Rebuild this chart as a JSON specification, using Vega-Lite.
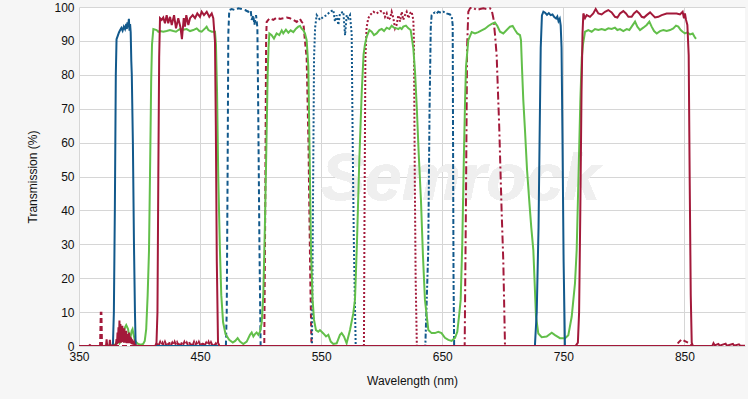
{
"$schema":"https://vega.github.io/schema/vega-lite/v6.json",
"width":666,"height":339,
"autosize":{"type":"none"},
"padding":{"left":79,"top":7,"right":3,"bottom":53},
"background":"#f6f6f6",
"config":{"view":{"fill":"#ffffff","stroke":null},
"axis":{"labelFont":"Liberation Sans","labelFontSize":12,"labelColor":"#111111","titleFont":"Liberation Sans","titleFontSize":12,"titleFontWeight":"normal","titleColor":"#111111","gridColor":"#d6d6d6","gridWidth":1,"domain":false,"ticks":false,"labelPadding":5}},
"datasets":{"d":[
{"s":"R","w":350,"t":0},{"s":"R","w":358,"t":0},{"s":"R","w":359,"t":0.3},{"s":"R","w":360,"t":0},{"s":"R","w":372.3,"t":0},{"s":"R","w":372.8,"t":2},{"s":"R","w":373.3,"t":0},{"s":"R","w":375,"t":0},{"s":"R","w":375.5,"t":1.8},{"s":"R","w":376,"t":0},{"s":"R","w":380.5,"t":0.3},
{"s":"R","w":381,"t":2},{"s":"R","w":381.4,"t":0.5},{"s":"R","w":381.8,"t":4},{"s":"R","w":382.2,"t":0.8},{"s":"R","w":382.6,"t":5.5},{"s":"R","w":383,"t":1},{"s":"R","w":383.4,"t":7.5},{"s":"R","w":383.8,"t":1.5},{"s":"R","w":384.2,"t":6.5},{"s":"R","w":384.6,"t":1},{"s":"R","w":385,"t":5},{"s":"R","w":385.4,"t":1.2},{"s":"R","w":385.8,"t":6},{"s":"R","w":386.2,"t":1.5},{"s":"R","w":386.6,"t":4.5},{"s":"R","w":387,"t":1},{"s":"R","w":387.4,"t":5.2},{"s":"R","w":387.8,"t":1.5},{"s":"R","w":388.2,"t":4},{"s":"R","w":388.6,"t":1},{"s":"R","w":389,"t":4.5},{"s":"R","w":389.4,"t":0.8},{"s":"R","w":389.8,"t":3.5},{"s":"R","w":390.2,"t":1},{"s":"R","w":390.6,"t":3},{"s":"R","w":391,"t":0.8},{"s":"R","w":391.4,"t":4},{"s":"R","w":391.8,"t":1},{"s":"R","w":392.2,"t":2.8},{"s":"R","w":392.6,"t":0.8},{"s":"R","w":393,"t":2.5},{"s":"R","w":393.4,"t":0.6},{"s":"R","w":393.8,"t":2},{"s":"R","w":394.2,"t":0.5},{"s":"R","w":394.6,"t":1.5},{"s":"R","w":395,"t":0.4},{"s":"R","w":395.5,"t":1},{"s":"R","w":396,"t":0.3},{"s":"R","w":398,"t":0},{"s":"R","w":413,"t":0},{"s":"R","w":414,"t":1},{"s":"R","w":414.8,"t":10},{"s":"R","w":415.5,"t":50},{"s":"R","w":416.2,"t":85},
{"s":"R","w":416.9,"t":96.7},{"s":"R","w":418.3,"t":96.2},{"s":"R","w":419.6,"t":96.9},{"s":"R","w":421,"t":95.2},{"s":"R","w":422.4,"t":97.6},{"s":"R","w":423.7,"t":95.2},{"s":"R","w":425.2,"t":97.1},{"s":"R","w":426.6,"t":94.7},{"s":"R","w":428.5,"t":97.6},{"s":"R","w":430.1,"t":93.7},{"s":"R","w":432,"t":96.7},{"s":"R","w":433.8,"t":94},{"s":"R","w":435,"t":90.5},{"s":"R","w":436.5,"t":96.7},{"s":"R","w":437.5,"t":94.2},{"s":"R","w":438.6,"t":97.6},{"s":"R","w":440.3,"t":94.7},{"s":"R","w":441.7,"t":96.7},{"s":"R","w":443.9,"t":97.6},{"s":"R","w":445.8,"t":96.7},{"s":"R","w":447.7,"t":98.1},{"s":"R","w":449.9,"t":97.1},{"s":"R","w":451.3,"t":98.6},{"s":"R","w":453.2,"t":97.6},{"s":"R","w":455.5,"t":98.6},{"s":"R","w":457.6,"t":97.1},{"s":"R","w":459.6,"t":98.1},{"s":"R","w":460.9,"t":96.7},{"s":"R","w":462.3,"t":89.8},{"s":"R","w":463,"t":65},{"s":"R","w":463.8,"t":25},{"s":"R","w":464.8,"t":1},{"s":"R","w":466,"t":0},{"s":"R","w":873,"t":0},{"s":"R","w":874,"t":0.8},{"s":"R","w":875,"t":0.2},{"s":"R","w":878,"t":0.6},{"s":"R","w":879,"t":0.1},{"s":"R","w":884,"t":0.7},{"s":"R","w":885,"t":0.1},{"s":"R","w":890,"t":0.6},{"s":"R","w":891,"t":0.1},{"s":"R","w":895,"t":0.5},{"s":"R","w":896,"t":0.1},{"s":"R","w":900,"t":0.1},
{"s":"R2","w":740,"t":0},{"s":"R2","w":760,"t":0},{"s":"R2","w":762,"t":1},{"s":"R2","w":763,"t":10},{"s":"R2","w":764,"t":40},{"s":"R2","w":765,"t":75},{"s":"R2","w":765.8,"t":92},
{"s":"R2","w":766.5,"t":98.1},{"s":"R2","w":767.9,"t":96.7},{"s":"R2","w":769.3,"t":97.6},{"s":"R2","w":772,"t":97.1},{"s":"R2","w":774.7,"t":98.1},{"s":"R2","w":776.7,"t":99.4},{"s":"R2","w":778.9,"t":98.1},{"s":"R2","w":781.6,"t":97.8},{"s":"R2","w":784.4,"t":98.6},{"s":"R2","w":787.1,"t":99.1},{"s":"R2","w":789.9,"t":98.4},{"s":"R2","w":792.6,"t":97.1},{"s":"R2","w":794.6,"t":96.9},{"s":"R2","w":796.8,"t":98.1},{"s":"R2","w":799.5,"t":98.8},{"s":"R2","w":801.7,"t":98.1},{"s":"R2","w":803.7,"t":97.1},{"s":"R2","w":806.4,"t":97.1},{"s":"R2","w":808.3,"t":98.1},{"s":"R2","w":810.6,"t":98.8},{"s":"R2","w":812.7,"t":98.1},{"s":"R2","w":814.7,"t":97.1},{"s":"R2","w":816.6,"t":96.9},{"s":"R2","w":818.8,"t":97.6},{"s":"R2","w":821.6,"t":98.4},{"s":"R2","w":823.8,"t":97.6},{"s":"R2","w":825.7,"t":96.9},{"s":"R2","w":828.4,"t":97.1},{"s":"R2","w":831.2,"t":97.6},{"s":"R2","w":835.3,"t":98.1},{"s":"R2","w":839.5,"t":98.1},{"s":"R2","w":843.6,"t":98.1},{"s":"R2","w":846.3,"t":97.8},{"s":"R2","w":848.5,"t":98.6},{"s":"R2","w":849.6,"t":96.7},{"s":"R2","w":850.4,"t":98.1},{"s":"R2","w":851.3,"t":96.2},{"s":"R2","w":852.4,"t":94.7},{"s":"R2","w":853.5,"t":85.8},{"s":"R2","w":854.3,"t":50},{"s":"R2","w":855.2,"t":15},{"s":"R2","w":856,"t":1},{"s":"R2","w":857,"t":0},{"s":"R2","w":870,"t":0},
{"s":"B","w":350,"t":0},{"s":"B","w":378,"t":0},{"s":"B","w":378.8,"t":10},{"s":"B","w":379.6,"t":40},{"s":"B","w":380.4,"t":80},{"s":"B","w":381,"t":90.5},{"s":"B","w":382,"t":91.5},{"s":"B","w":383,"t":92.5},{"s":"B","w":384,"t":93.2},{"s":"B","w":385,"t":93.8},{"s":"B","w":386,"t":93},{"s":"B","w":387,"t":94.2},{"s":"B","w":388,"t":93.5},{"s":"B","w":389,"t":95},{"s":"B","w":389.5,"t":93.5},{"s":"B","w":390,"t":95.5},{"s":"B","w":390.5,"t":94},{"s":"B","w":391.2,"t":96.5},{"s":"B","w":391.7,"t":93},{"s":"B","w":392.2,"t":95},{"s":"B","w":392.7,"t":92.5},{"s":"B","w":393.2,"t":84},{"s":"B","w":393.6,"t":80},{"s":"B","w":394.5,"t":60},{"s":"B","w":395.4,"t":30},{"s":"B","w":396.2,"t":10},{"s":"B","w":396.8,"t":0},{"s":"B","w":726.5,"t":0},{"s":"B","w":728,"t":10},{"s":"B","w":729.5,"t":35},{"s":"B","w":730.5,"t":65},{"s":"B","w":731.3,"t":88},{"s":"B","w":732.3,"t":97.5},{"s":"B","w":733.5,"t":98.6},{"s":"B","w":735,"t":98.3},{"s":"B","w":736.5,"t":97.7},{"s":"B","w":738,"t":98.2},{"s":"B","w":739.5,"t":97.6},{"s":"B","w":741,"t":97.8},{"s":"B","w":742.5,"t":97},{"s":"B","w":744,"t":96.6},{"s":"B","w":745,"t":97.2},{"s":"B","w":746,"t":95.8},{"s":"B","w":747,"t":96.5},{"s":"B","w":747.8,"t":94.5},{"s":"B","w":748.5,"t":88},{"s":"B","w":749.3,"t":60},{"s":"B","w":750.2,"t":25},{"s":"B","w":751.3,"t":0},{"s":"B","w":760,"t":0},
{"s":"G","w":369.8,"t":0},{"s":"G","w":378,"t":0.2},{"s":"G","w":380,"t":0.5},{"s":"G","w":381,"t":1},{"s":"G","w":382.2,"t":2},{"s":"G","w":383.5,"t":0.8},{"s":"G","w":385,"t":1.5},{"s":"G","w":386.5,"t":3.5},{"s":"G","w":388,"t":5.5},{"s":"G","w":389,"t":6.2},{"s":"G","w":390.5,"t":5},{"s":"G","w":391.5,"t":3},{"s":"G","w":392.5,"t":2.5},{"s":"G","w":393.5,"t":4.5},{"s":"G","w":394.2,"t":5},{"s":"G","w":395,"t":3.5},{"s":"G","w":396,"t":1.8},{"s":"G","w":397.5,"t":1},{"s":"G","w":399,"t":0.6},{"s":"G","w":401,"t":0.4},{"s":"G","w":403,"t":0.6},{"s":"G","w":404.3,"t":1.5},{"s":"G","w":405.5,"t":5},{"s":"G","w":406.7,"t":15},{"s":"G","w":407.8,"t":28},{"s":"G","w":408.8,"t":55},{"s":"G","w":409.6,"t":78},{"s":"G","w":410.3,"t":89},{"s":"G","w":411.4,"t":93.5},{"s":"G","w":414.1,"t":93.2},{"s":"G","w":415.5,"t":92.7},{"s":"G","w":416.9,"t":92.9},{"s":"G","w":419.6,"t":92.7},{"s":"G","w":422.4,"t":92.9},{"s":"G","w":425.1,"t":93.2},{"s":"G","w":427.9,"t":92.9},{"s":"G","w":430.1,"t":92.7},{"s":"G","w":432,"t":93.2},{"s":"G","w":433.4,"t":93.5},{"s":"G","w":436.2,"t":93.3},{"s":"G","w":438.9,"t":93.5},{"s":"G","w":441.7,"t":92.9},{"s":"G","w":444.4,"t":93.2},{"s":"G","w":447.2,"t":93.7},{"s":"G","w":449.4,"t":92.9},{"s":"G","w":451.3,"t":92.7},{"s":"G","w":454.1,"t":93.7},{"s":"G","w":455.4,"t":94.2},{"s":"G","w":456.8,"t":93.2},{"s":"G","w":459.6,"t":92.7},{"s":"G","w":462.3,"t":92.7},{"s":"G","w":463.1,"t":89},{"s":"G","w":464,"t":75},{"s":"G","w":465,"t":50},{"s":"G","w":466.4,"t":28},{"s":"G","w":467.5,"t":15},{"s":"G","w":469,"t":7},{"s":"G","w":471,"t":3.5},{"s":"G","w":474,"t":1.8},{"s":"G","w":477,"t":1},{"s":"G","w":479,"t":1.5},{"s":"G","w":481,"t":2.3},{"s":"G","w":483,"t":1.3},{"s":"G","w":485.7,"t":0.6},{"s":"G","w":488.5,"t":1.3},{"s":"G","w":491.2,"t":3.3},{"s":"G","w":492.6,"t":4},{"s":"G","w":494,"t":2.8},{"s":"G","w":495.3,"t":3.5},{"s":"G","w":496.7,"t":4},{"s":"G","w":498.1,"t":3.3},{"s":"G","w":499.5,"t":4.2},{"s":"G","w":500.9,"t":7},{"s":"G","w":502.2,"t":15},{"s":"G","w":503.5,"t":35},{"s":"G","w":504.8,"t":60},{"s":"G","w":505.8,"t":80},{"s":"G","w":506.5,"t":88},{"s":"G","w":507.2,"t":92.2},{"s":"G","w":509.1,"t":91.7},{"s":"G","w":511,"t":90.7},{"s":"G","w":513.2,"t":92.2},{"s":"G","w":515.4,"t":91.7},{"s":"G","w":517.4,"t":93.1},{"s":"G","w":518.7,"t":92.2},{"s":"G","w":520.9,"t":93.3},{"s":"G","w":522.9,"t":92.4},{"s":"G","w":524.8,"t":93.1},{"s":"G","w":527,"t":92.6},{"s":"G","w":529.2,"t":93.6},{"s":"G","w":531.1,"t":94.2},{"s":"G","w":532.5,"t":94.4},{"s":"G","w":533.9,"t":93.6},{"s":"G","w":535.3,"t":93.1},{"s":"G","w":536.6,"t":92.2},{"s":"G","w":538,"t":90.2},{"s":"G","w":539.4,"t":82.4},{"s":"G","w":540.5,"t":55},{"s":"G","w":541.6,"t":28},{"s":"G","w":542.9,"t":13.6},{"s":"G","w":544.1,"t":7.7},{"s":"G","w":545.7,"t":4.7},{"s":"G","w":547.6,"t":4.2},{"s":"G","w":549,"t":4.7},{"s":"G","w":551.8,"t":3.7},{"s":"G","w":554,"t":2.8},{"s":"G","w":555.9,"t":3.3},{"s":"G","w":557.9,"t":1.3},{"s":"G","w":560,"t":0.6},{"s":"G","w":562.8,"t":0.8},{"s":"G","w":565.5,"t":3.3},{"s":"G","w":566.9,"t":3.8},{"s":"G","w":568.8,"t":2.8},{"s":"G","w":571,"t":0.8},{"s":"G","w":573.8,"t":4.7},{"s":"G","w":576.5,"t":9.6},{"s":"G","w":577.9,"t":13.6},{"s":"G","w":579.5,"t":30},{"s":"G","w":581.5,"t":55},{"s":"G","w":583.5,"t":75},{"s":"G","w":585,"t":86},{"s":"G","w":586.2,"t":89},{"s":"G","w":587.6,"t":91.3},{"s":"G","w":589.8,"t":93.2},{"s":"G","w":591.7,"t":92.7},{"s":"G","w":593.6,"t":91.7},{"s":"G","w":595.8,"t":92.2},{"s":"G","w":598,"t":93.2},{"s":"G","w":600,"t":93.5},{"s":"G","w":601.9,"t":92.9},{"s":"G","w":604.1,"t":93.9},{"s":"G","w":606.3,"t":93.5},{"s":"G","w":608.2,"t":94.5},{"s":"G","w":610.1,"t":93.9},{"s":"G","w":612.3,"t":93.7},{"s":"G","w":613.7,"t":93.5},{"s":"G","w":615.1,"t":93.9},{"s":"G","w":616.5,"t":93.5},{"s":"G","w":617.8,"t":94.2},{"s":"G","w":620,"t":94.5},{"s":"G","w":622,"t":93.7},{"s":"G","w":623.9,"t":93.2},{"s":"G","w":624.7,"t":91.3},{"s":"G","w":626.1,"t":87.8},{"s":"G","w":627.5,"t":80.9},{"s":"G","w":629,"t":70},{"s":"G","w":630.5,"t":57},{"s":"G","w":632.4,"t":43},{"s":"G","w":634,"t":27},{"s":"G","w":635.7,"t":13.6},{"s":"G","w":638.5,"t":4.7},{"s":"G","w":641.2,"t":3.8},{"s":"G","w":643.9,"t":3.8},{"s":"G","w":646.7,"t":4.2},{"s":"G","w":649.4,"t":3.8},{"s":"G","w":652.2,"t":2.4},{"s":"G","w":655,"t":1.8},{"s":"G","w":657.7,"t":1.5},{"s":"G","w":660.5,"t":2.4},{"s":"G","w":662.4,"t":4.2},{"s":"G","w":664.1,"t":9.6},{"s":"G","w":665.2,"t":13.6},{"s":"G","w":666.5,"t":30},{"s":"G","w":667.8,"t":55},{"s":"G","w":668.8,"t":72},{"s":"G","w":669.6,"t":82.4},{"s":"G","w":671.5,"t":90.2},{"s":"G","w":674.3,"t":92.6},{"s":"G","w":677,"t":92.2},{"s":"G","w":679.8,"t":92.6},{"s":"G","w":682.5,"t":93.1},{"s":"G","w":685.3,"t":93.6},{"s":"G","w":688,"t":94.4},{"s":"G","w":690.8,"t":95},{"s":"G","w":693.5,"t":95.4},{"s":"G","w":695.5,"t":94.4},{"s":"G","w":697.7,"t":92.7},{"s":"G","w":700.4,"t":92.2},{"s":"G","w":703.2,"t":93.2},{"s":"G","w":705.9,"t":94.2},{"s":"G","w":708.1,"t":94.4},{"s":"G","w":710.1,"t":93.2},{"s":"G","w":712,"t":92.2},{"s":"G","w":714.2,"t":91.7},{"s":"G","w":715,"t":90.2},{"s":"G","w":715.8,"t":82.4},{"s":"G","w":716.9,"t":72.6},{"s":"G","w":718.3,"t":63.7},{"s":"G","w":720,"t":52},{"s":"G","w":722,"t":42},{"s":"G","w":723.5,"t":35},{"s":"G","w":725.2,"t":28.3},{"s":"G","w":726.3,"t":18.5},{"s":"G","w":727.4,"t":8.7},{"s":"G","w":729.3,"t":3.7},{"s":"G","w":732.1,"t":2.6},{"s":"G","w":736.2,"t":2.8},{"s":"G","w":740.4,"t":3.9},{"s":"G","w":743.1,"t":3.2},{"s":"G","w":747.2,"t":2.3},{"s":"G","w":751.4,"t":2.3},{"s":"G","w":754.1,"t":3.2},{"s":"G","w":756.9,"t":8.7},{"s":"G","w":759.6,"t":18.5},{"s":"G","w":761,"t":28.3},{"s":"G","w":762.5,"t":50},{"s":"G","w":764,"t":72},{"s":"G","w":765.2,"t":85},{"s":"G","w":766.2,"t":89},{"s":"G","w":767.9,"t":92.7},{"s":"G","w":770.6,"t":93.2},{"s":"G","w":773.4,"t":92.7},{"s":"G","w":776.1,"t":93.5},{"s":"G","w":778.9,"t":93.2},{"s":"G","w":781.6,"t":93.5},{"s":"G","w":784.4,"t":93.2},{"s":"G","w":787.1,"t":93.7},{"s":"G","w":789.9,"t":93.5},{"s":"G","w":792.6,"t":93.9},{"s":"G","w":794.6,"t":93.2},{"s":"G","w":796.8,"t":93.5},{"s":"G","w":799.5,"t":92.9},{"s":"G","w":802.3,"t":93.5},{"s":"G","w":804.5,"t":93.2},{"s":"G","w":806.4,"t":94.2},{"s":"G","w":809.2,"t":95.7},{"s":"G","w":811.1,"t":94.2},{"s":"G","w":813.3,"t":93.2},{"s":"G","w":816,"t":93.9},{"s":"G","w":818.8,"t":94.7},{"s":"G","w":821,"t":95.7},{"s":"G","w":822.9,"t":94.2},{"s":"G","w":824.9,"t":92.9},{"s":"G","w":827.1,"t":92.2},{"s":"G","w":829.8,"t":92.9},{"s":"G","w":832.6,"t":93.2},{"s":"G","w":835.3,"t":92.9},{"s":"G","w":838.1,"t":93.2},{"s":"G","w":840.8,"t":93.7},{"s":"G","w":843,"t":94.5},{"s":"G","w":844.9,"t":94.2},{"s":"G","w":846.9,"t":93.2},{"s":"G","w":848.5,"t":92.7},{"s":"G","w":850.4,"t":92.2},{"s":"G","w":852.4,"t":92.5},{"s":"G","w":854.6,"t":91.9},{"s":"G","w":856.8,"t":92.2},{"s":"G","w":858.2,"t":91.3},{"s":"G","w":859.5,"t":90.6},
{"s":"BD","w":465,"t":0},{"s":"BD","w":471.3,"t":0},{"s":"BD","w":472,"t":10},{"s":"BD","w":472.7,"t":50},{"s":"BD","w":473.3,"t":92},{"s":"BD","w":474.1,"t":99.1},{"s":"BD","w":476.1,"t":99.4},{"s":"BD","w":478.8,"t":99.1},{"s":"BD","w":481.6,"t":99.6},{"s":"BD","w":484.3,"t":99.4},{"s":"BD","w":487.1,"t":99.1},{"s":"BD","w":489.8,"t":98.6},{"s":"BD","w":491.8,"t":99.1},{"s":"BD","w":492.6,"t":96.2},{"s":"BD","w":494,"t":97.6},{"s":"BD","w":494.8,"t":94.7},{"s":"BD","w":496.2,"t":97.6},{"s":"BD","w":497.3,"t":94},{"s":"BD","w":498,"t":70},{"s":"BD","w":499,"t":30},{"s":"BD","w":500,"t":0},{"s":"BD","w":505,"t":0},
{"s":"RD","w":360,"t":0},{"s":"RD","w":367.4,"t":0},{"s":"RD","w":368,"t":9.8},{"s":"RD","w":368.5,"t":9.8},{"s":"RD","w":369,"t":0},{"s":"RD","w":413,"t":0},{"s":"RD","w":414,"t":0.2},{"s":"RD","w":415,"t":1.1},{"s":"RD","w":416,"t":0.3},{"s":"RD","w":417,"t":1.2},{"s":"RD","w":418,"t":0.3},{"s":"RD","w":419,"t":1},{"s":"RD","w":420,"t":0.2},{"s":"RD","w":421,"t":1.2},{"s":"RD","w":422,"t":0.3},{"s":"RD","w":423,"t":1.1},{"s":"RD","w":424,"t":0.3},{"s":"RD","w":425,"t":1.2},{"s":"RD","w":426,"t":0.3},{"s":"RD","w":427,"t":1},{"s":"RD","w":428,"t":0.2},{"s":"RD","w":429,"t":1.2},{"s":"RD","w":430,"t":0.3},{"s":"RD","w":431,"t":1.1},{"s":"RD","w":432,"t":0.3},{"s":"RD","w":433,"t":1.2},{"s":"RD","w":434,"t":0.2},{"s":"RD","w":435,"t":1.1},{"s":"RD","w":436,"t":0.3},{"s":"RD","w":437,"t":1.2},{"s":"RD","w":438,"t":0.3},{"s":"RD","w":439,"t":1},{"s":"RD","w":440,"t":0.2},{"s":"RD","w":441,"t":1.2},{"s":"RD","w":442,"t":0.3},{"s":"RD","w":443,"t":1.1},{"s":"RD","w":444,"t":0.3},{"s":"RD","w":445,"t":1.2},{"s":"RD","w":446,"t":0.2},{"s":"RD","w":447,"t":1},{"s":"RD","w":448,"t":0.3},{"s":"RD","w":449,"t":1.2},{"s":"RD","w":450,"t":0.3},{"s":"RD","w":451,"t":1.1},{"s":"RD","w":452,"t":0.2},{"s":"RD","w":453,"t":1.2},{"s":"RD","w":454,"t":0.3},{"s":"RD","w":455,"t":1},{"s":"RD","w":456,"t":0.3},{"s":"RD","w":457,"t":1.2},{"s":"RD","w":458,"t":0.2},{"s":"RD","w":459,"t":1.1},{"s":"RD","w":460,"t":0.3},{"s":"RD","w":461,"t":1},{"s":"RD","w":462,"t":0.3},{"s":"RD","w":463,"t":0.8},{"s":"RD","w":464,"t":0.2},{"s":"RD","w":465,"t":0},{"s":"RD","w":503,"t":0},{"s":"RD","w":503.8,"t":40},{"s":"RD","w":504.5,"t":90},{"s":"RD","w":505,"t":95.6},{"s":"RD","w":506.3,"t":96.2},{"s":"RD","w":507.7,"t":96.7},{"s":"RD","w":510.5,"t":96.2},{"s":"RD","w":513.3,"t":96.9},{"s":"RD","w":516,"t":96.5},{"s":"RD","w":518.7,"t":96.7},{"s":"RD","w":521.5,"t":96.9},{"s":"RD","w":524.2,"t":96.7},{"s":"RD","w":527,"t":96.2},{"s":"RD","w":529.8,"t":95.6},{"s":"RD","w":532.5,"t":96.5},{"s":"RD","w":533.9,"t":95.6},{"s":"RD","w":535.3,"t":95.2},{"s":"RD","w":536.6,"t":90},{"s":"RD","w":538,"t":85},{"s":"RD","w":539.5,"t":60},{"s":"RD","w":541,"t":20},{"s":"RD","w":542,"t":0},{"s":"RD","w":843,"t":0},{"s":"RD","w":845,"t":1},{"s":"RD","w":847.7,"t":2},{"s":"RD","w":850,"t":1.5},{"s":"RD","w":853,"t":1},{"s":"RD","w":857,"t":0},{"s":"RD","w":860,"t":0},
{"s":"BO","w":538,"t":0},{"s":"BO","w":542.4,"t":0},{"s":"BO","w":543.2,"t":40},{"s":"BO","w":544.1,"t":85},{"s":"BO","w":545,"t":94},{"s":"BO","w":546.3,"t":97.6},{"s":"BO","w":549,"t":96.2},{"s":"BO","w":551.8,"t":97.1},{"s":"BO","w":554.5,"t":97.6},{"s":"BO","w":557.3,"t":98.6},{"s":"BO","w":560,"t":99.1},{"s":"BO","w":561.4,"t":95.7},{"s":"BO","w":562.8,"t":97.6},{"s":"BO","w":564.2,"t":94.7},{"s":"BO","w":565.5,"t":98.1},{"s":"BO","w":568.3,"t":98.6},{"s":"BO","w":569.7,"t":91.7},{"s":"BO","w":571.1,"t":97.6},{"s":"BO","w":572.4,"t":96.7},{"s":"BO","w":573.8,"t":97.6},{"s":"BO","w":575.2,"t":92},{"s":"BO","w":576,"t":60},{"s":"BO","w":577,"t":30},{"s":"BO","w":578.5,"t":0},{"s":"BO","w":581,"t":0},
{"s":"RO","w":582,"t":0},{"s":"RO","w":585.3,"t":0},{"s":"RO","w":585.8,"t":40},{"s":"RO","w":586.5,"t":85},{"s":"RO","w":587.5,"t":94},{"s":"RO","w":588.9,"t":96.7},{"s":"RO","w":590.3,"t":97.6},{"s":"RO","w":593.1,"t":98.6},{"s":"RO","w":595.8,"t":98.1},{"s":"RO","w":598.6,"t":98.8},{"s":"RO","w":601.3,"t":98.6},{"s":"RO","w":602.7,"t":97.1},{"s":"RO","w":604.1,"t":98.1},{"s":"RO","w":605.4,"t":96.2},{"s":"RO","w":606.8,"t":96.7},{"s":"RO","w":608.2,"t":98.6},{"s":"RO","w":609.6,"t":96.7},{"s":"RO","w":611,"t":93.7},{"s":"RO","w":612.3,"t":94.7},{"s":"RO","w":613.7,"t":97.6},{"s":"RO","w":615.1,"t":95.7},{"s":"RO","w":616.5,"t":98.6},{"s":"RO","w":617.8,"t":96.2},{"s":"RO","w":619.2,"t":97.6},{"s":"RO","w":620.6,"t":98.6},{"s":"RO","w":622,"t":96.7},{"s":"RO","w":623.3,"t":98.1},{"s":"RO","w":624.7,"t":98.6},{"s":"RO","w":626.1,"t":96.2},{"s":"RO","w":626.6,"t":90},{"s":"RO","w":627.3,"t":50},{"s":"RO","w":628,"t":20},{"s":"RO","w":629,"t":0},{"s":"RO","w":632,"t":0},
{"s":"BX","w":633,"t":0},{"s":"BX","w":636,"t":0},{"s":"BX","w":638.4,"t":28},{"s":"BX","w":639.5,"t":70},{"s":"BX","w":640.5,"t":94},{"s":"BX","w":641.2,"t":97.6},{"s":"BX","w":642.6,"t":98.1},{"s":"BX","w":644,"t":98.4},{"s":"BX","w":645.4,"t":98.1},{"s":"BX","w":646.7,"t":98.6},{"s":"BX","w":648.1,"t":98.4},{"s":"BX","w":650.9,"t":98.6},{"s":"BX","w":653.6,"t":98.1},{"s":"BX","w":656.4,"t":97.8},{"s":"BX","w":657.8,"t":97.1},{"s":"BX","w":658.6,"t":94.7},{"s":"BX","w":659,"t":50},{"s":"BX","w":659.3,"t":20},{"s":"BX","w":659.8,"t":0},{"s":"BX","w":663,"t":0},
{"s":"RX","w":665,"t":0},{"s":"RX","w":668.5,"t":0},{"s":"RX","w":669.5,"t":40},{"s":"RX","w":670.5,"t":88},{"s":"RX","w":671.5,"t":98.6},{"s":"RX","w":672.9,"t":99.6},{"s":"RX","w":674.3,"t":99.9},{"s":"RX","w":675.6,"t":99.8},{"s":"RX","w":678.4,"t":99.1},{"s":"RX","w":681.2,"t":99.4},{"s":"RX","w":683.9,"t":99.6},{"s":"RX","w":686.7,"t":99.4},{"s":"RX","w":689.4,"t":99.6},{"s":"RX","w":690.8,"t":99.1},{"s":"RX","w":692.2,"t":96.7},{"s":"RX","w":693.5,"t":92},{"s":"RX","w":694.9,"t":85.8},{"s":"RX","w":697,"t":65},{"s":"RX","w":699,"t":40},{"s":"RX","w":700.4,"t":25},{"s":"RX","w":701.8,"t":0},{"s":"RX","w":705,"t":0}
]},
"data":{"name":"d"},
"encoding":{
"x":{"field":"w","type":"quantitative","scale":{"domain":[350,900],"nice":false,"zero":false},"axis":{"title":"Wavelength (nm)","values":[350,450,550,650,750,850],"labelFlush":false,"labelOverlap":false,"titlePadding":13}},
"y":{"field":"t","type":"quantitative","scale":{"domain":[0,100],"nice":false},"axis":{"title":"Transmission (%)","values":[0,10,20,30,40,50,60,70,80,90,100],"titlePadding":14}}
},
"layer":[
{"mark":{"type":"text","text":"Semrock","font":"Liberation Sans","fontSize":66,"fontStyle":"italic","fontWeight":"bold","color":"#efefef"},"encoding":{"x":{"datum":665},"y":{"datum":49}}},
{"transform":[{"filter":"datum.s==='BD'"}],"mark":{"type":"line","color":"#12598c","strokeWidth":2,"strokeDash":[5,3],"clip":true}},
{"transform":[{"filter":"datum.s==='RD'"}],"mark":{"type":"line","color":"#a3193a","strokeWidth":2,"strokeDash":[5,3],"clip":true}},
{"transform":[{"filter":"datum.s==='BO'"}],"mark":{"type":"line","color":"#12598c","strokeWidth":2,"strokeDash":[2,2],"clip":true}},
{"transform":[{"filter":"datum.s==='RO'"}],"mark":{"type":"line","color":"#a3193a","strokeWidth":2,"strokeDash":[2,2],"clip":true}},
{"transform":[{"filter":"datum.s==='BX'"}],"mark":{"type":"line","color":"#12598c","strokeWidth":2,"strokeDash":[5,2,2,2],"clip":true}},
{"transform":[{"filter":"datum.s==='RX'"}],"mark":{"type":"line","color":"#a3193a","strokeWidth":2,"strokeDash":[8,3,2,3],"clip":true}},
{"transform":[{"filter":"datum.s==='G'"}],"mark":{"type":"line","color":"#62bf4a","strokeWidth":2,"clip":true}},
{"transform":[{"filter":"datum.s==='B'"}],"mark":{"type":"line","color":"#12598c","strokeWidth":2,"clip":true}},
{"transform":[{"filter":"datum.s==='R2'"}],"mark":{"type":"line","color":"#a3193a","strokeWidth":2,"clip":true}},
{"transform":[{"filter":"datum.s==='R'"}],"mark":{"type":"line","color":"#a3193a","strokeWidth":2,"clip":true}}
]
}
